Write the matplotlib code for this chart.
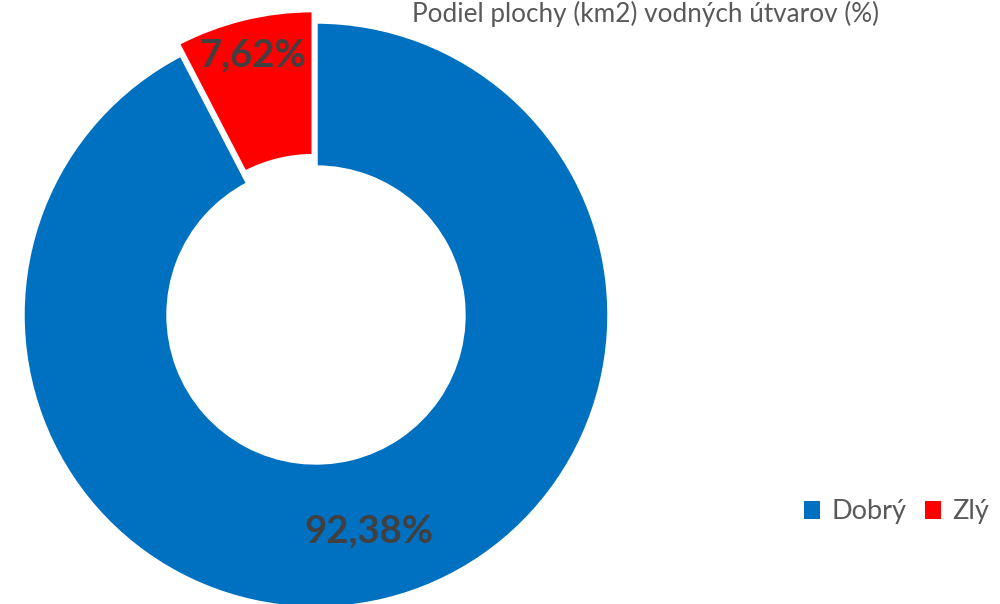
import numpy as np
import matplotlib.pyplot as plt

categories = ['Dobrý', 'Zlý']
values = [92.38, 7.62]
labels = ['92,38%', '7,62%']
colors = ['#0070C0', '#FF0000']
title = 'Podiel plochy (km2) vodných útvarov (%)'

plt.rcParams['font.family'] = ['Lato', 'DejaVu Sans']

W, H = 1000, 604
R = 293.0  # pixels per data unit (outer radius)
cx, cy = 316, 315  # pie centre in pixels from top-left

fig = plt.figure(figsize=(W / 100, H / 100), dpi=100)
ax = fig.add_axes([0, 0, 1, 1])

wedges, _ = ax.pie(values, colors=colors, startangle=90, counterclock=False,
                   explode=[0, 0.04], radius=1.0,
                   wedgeprops=dict(width=0.495, edgecolor='white', linewidth=2.5))

label_r = [0.76, 0.87]
for w, lab, r in zip(wedges, labels, label_r):
    ang = np.deg2rad((w.theta1 + w.theta2) / 2)
    x0, y0 = w.center
    ax.text(x0 + r * np.cos(ang), y0 + r * np.sin(ang), lab, ha='center', va='center',
            fontsize=27.5, fontweight='bold', color='#404040')

ax.set_xlim(-cx / R, (W - cx) / R)
ax.set_ylim(-(H - cy) / R, cy / R)
ax.set_aspect('auto')
ax.axis('off')

fig.text(645 / W, 1 - 1 / H, title, ha='center', va='top', fontsize=18.8, color='#595959')

leg = fig.legend(wedges, categories, loc='center right', bbox_to_anchor=(1.0, 1 - 512 / H),
                 ncol=2, frameon=False, fontsize=19.5, handlelength=0.6, handleheight=0.6,
                 handletextpad=0.4, columnspacing=0.7, borderaxespad=0.0)
for t in leg.get_texts():
    t.set_color('#595959')
for p in leg.get_patches():
    p.set_edgecolor('none')

fig.savefig('out.png', dpi=100)
